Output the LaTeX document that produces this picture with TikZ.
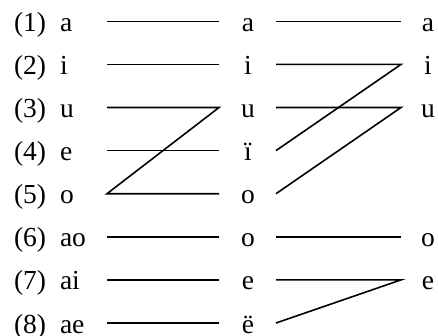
\documentclass[tikz,border=0pt]{standalone}
\usepackage{fontspec}
\setmainfont{Liberation Serif}
\begin{document}
\begin{tikzpicture}[x=1pt,y=-1pt,
  txt/.style={inner sep=0pt,outer sep=0pt,font=\fontsize{27.5}{32}\selectfont},
  lbl/.style={txt,anchor=base west},
  mid/.style={txt,anchor=base},
  conn/.style={line width=1.6pt,line cap=butt,line join=miter}]
\useasboundingbox (0,0) rectangle (438,335);
\foreach \k in {1,...,8}{
  \pgfmathsetmacro{\yy}{21.3+43.1*(\k-1)}
  \coordinate (L\k) at (107,\yy);
  \coordinate (M\k) at (219,\yy);
  \coordinate (N\k) at (276,\yy);
  \coordinate (R\k) at (401,\yy);
  \node[lbl] (num\k) at (14,\yy+10) {(\k)};
}
\foreach \k/\a/\b/\c in {1/a/a/a,2/i/i/i,3/u/u/u,4/e/ï/,5/o/o/,6/ao/o/o,7/ai/e/e,8/ae/ë/}{
  \pgfmathsetmacro{\yy}{21.3+43.1*(\k-1)+10}
  \node[lbl] (src\k) at (60,\yy) {\a};
  \node[mid] (mid\k) at (248,\yy) {\b};
  \node[mid] (dst\k) at (428,\yy) {\c};
}
% left stage
\draw[conn] (L1) -- (M1);
\draw[conn] (L2) -- (M2);
\draw[conn] (L3) -- (M3) -- (L5) -- (M5);
\draw[conn] (L4) -- (M4);
\draw[conn] (L6) -- (M6);
\draw[conn] (L7) -- (M7);
\draw[conn] (L8) -- (M8);
% right stage
\draw[conn] (N1) -- (R1);
\draw[conn] (N2) -- (R2) -- (N4);
\draw[conn] (N3) -- (R3) -- (N5);
\draw[conn] (N6) -- (R6);
\draw[conn] (N7) -- (R7) -- (N8);
\end{tikzpicture}
\end{document}
